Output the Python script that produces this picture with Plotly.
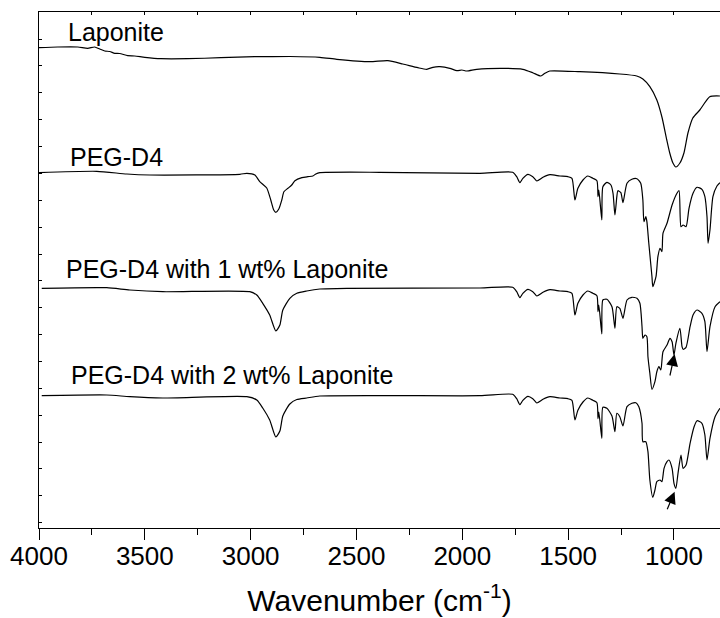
import plotly.graph_objects as go

# ---------------- data ----------------
# Laponite
wn_lap = [4000, 3912, 3817, 3770, 3737, 3713, 3689, 3666, 3642, 3619, 3581, 3548, 3500,
          3424, 3297, 3141, 2981, 2815, 2673, 2593, 2437, 2352, 2281, 2210, 2168, 2139,
          2106, 2059, 2026, 2002, 1979, 1932, 1809, 1714, 1667, 1629, 1610, 1587, 1445,
          1256, 1176, 1147, 1114, 1081, 1057, 1034, 1020, 1005, 991, 972, 953, 934, 911,
          878, 831, 783]
ab_lap = [480.3, 481, 481, 479.7, 481, 479, 477, 476.5, 474.7, 474.5, 472.3, 472, 470.7,
          469.3, 469.3, 470.3, 471.3, 471.5, 470.7, 468.7, 466.3, 467.3, 464, 460.3, 458.7,
          460.7, 461.3, 459.7, 457.3, 458, 457, 458.7, 459.7, 458.7, 455.3, 452, 454.7, 457,
          456.3, 454, 452, 449, 441.3, 428, 411, 388, 375, 365, 361, 365, 375, 395, 410,
          418, 431.3, 432]

# PEG-D4
wn_peg = [4000, 3727, 3585, 3477, 3051, 3018, 2980, 2957, 2943, 2924, 2905, 2891, 2881,
          2867, 2853, 2843, 2824, 2806, 2791, 2758, 2730, 2706, 2692, 2673, 2390, 1917,
          1762, 1743, 1728, 1714, 1690, 1667, 1648, 1619, 1586, 1539, 1501, 1482, 1468,
          1454, 1430, 1407, 1383, 1364, 1359, 1355, 1341, 1336, 1317, 1298, 1288, 1279,
          1270, 1265, 1251, 1241, 1222, 1199, 1175, 1157, 1147, 1142, 1133, 1128, 1119,
          1104, 1100, 1085, 1076, 1066, 1057, 1052, 1033, 1009, 986, 976, 967, 957, 943,
          929, 910, 891, 868, 854, 844, 839, 830, 816, 797, 783]
ab_peg = [355.3, 356.7, 354, 353, 353.7, 354.7, 353, 346.3, 343.7, 340, 328, 318, 315.7,
          319, 328, 336.3, 339.7, 343, 347.3, 350.3, 351.3, 352, 354, 355.3, 355.7, 354.7,
          355.7, 351.3, 345.3, 349.7, 353.7, 351.3, 347, 350.7, 353.3, 352, 351.3, 349.7,
          328, 339.7, 348, 352, 349.7, 347.3, 331.3, 338, 308, 341.3, 345.7, 343, 334.7,
          313, 331.3, 337.3, 335.3, 325.3, 344.7, 348.7, 349.3, 344.7, 328, 306.3, 311.3,
          306.3, 284.7, 251.3, 241.3, 251.3, 271.3, 279.7, 276.3, 294.7, 304.7, 323, 334.7,
          337.3, 301.3, 303, 301.3, 319.7, 334.7, 340.7, 338.7, 331.3, 311.3, 284.7, 298,
          331.3, 342, 345.3]

# PEG-D4 with 1 wt% Laponite
wn_peg1 = [3987, 3680, 3571, 3415, 3004, 2971, 2943, 2910, 2881, 2862, 2848, 2815, 2782,
           2735, 2673, 2546, 1917, 1762, 1743, 1728, 1714, 1690, 1667, 1648, 1619, 1586,
           1539, 1501, 1482, 1468, 1454, 1430, 1407, 1383, 1364, 1359, 1355, 1341, 1336,
           1317, 1293, 1279, 1270, 1256, 1241, 1222, 1199, 1175, 1161, 1151, 1147, 1137,
           1128, 1123, 1114, 1104, 1090, 1081, 1071, 1062, 1052, 1033, 1019, 1009, 1000,
           991, 972, 962, 957, 943, 924, 910, 891, 868, 854, 844, 830, 806, 783]
ab_peg1 = [239.7, 240.3, 238, 236.3, 236.3, 233, 224.7, 213, 197, 203, 218, 229.7, 234.7,
           237, 239, 239.7, 240, 240.7, 236.3, 230.3, 234.7, 238.7, 236.3, 232, 235.7, 238.3,
           237, 236.3, 234.7, 213, 224.7, 233, 237, 234.7, 232.3, 216.3, 223, 194, 228,
           228.7, 221.3, 199.7, 221.3, 219.7, 209.7, 228, 230.7, 229.7, 224.7, 201.3, 189.7,
           193, 191.3, 171.3, 154.7, 138.7, 146.3, 156.3, 161.3, 158, 176.3, 183, 189.7,
           186.3, 173, 184.7, 199.7, 181.3, 178.7, 180.7, 201.3, 213, 218, 214.7, 206.3,
           176.3, 201.3, 221.3, 226.3]

# PEG-D4 with 2 wt% Laponite
wn_peg2 = [3987, 3680, 3571, 3415, 3018, 2971, 2943, 2910, 2881, 2862, 2848, 2815, 2782,
           2735, 2673, 1917, 1762, 1743, 1728, 1714, 1690, 1667, 1648, 1619, 1586, 1539,
           1501, 1482, 1468, 1454, 1430, 1407, 1383, 1364, 1359, 1355, 1341, 1336, 1317,
           1293, 1279, 1270, 1256, 1241, 1222, 1199, 1180, 1166, 1151, 1147, 1133, 1123,
           1114, 1100, 1090, 1081, 1066, 1057, 1047, 1033, 1024, 1009, 1000, 991, 981, 967,
           957, 943, 924, 905, 891, 868, 854, 844, 830, 806, 783]
ab_peg2 = [132.3, 133, 131.3, 130, 131.3, 128, 120, 108, 91, 97, 112, 124, 128.5, 130, 132,
           132.3, 133.7, 129.3, 123.3, 127.7, 131.7, 129.3, 125, 128.7, 131.3, 130, 129.3,
           127.7, 108, 117.7, 126, 130, 127.7, 125.3, 109.3, 116, 89.7, 120.7, 119.7, 112,
           96.3, 114.7, 111.3, 102, 121.3, 124.7, 125.3, 121.3, 104.7, 86.3, 86.3, 76.3, 48,
           30.7, 38, 46.3, 48, 46.3, 59.7, 66.3, 68, 59.7, 44.7, 39.7, 54.7, 73, 59.7, 63,
           84.7, 101.3, 107.3, 104.7, 93, 68, 89.7, 111.3, 119.7]

labels = ["Laponite", "PEG-D4", "PEG-D4 with 1 wt% Laponite", "PEG-D4 with 2 wt% Laponite"]
label_wn = [3871, 3862, 3881, 3857]
label_val = [496, 371, 259, 153]

arrow_wn = [997, 997]
arrow_val = [174, 36.3]

x_range = [4000, 782.6]
y_range = [0, 516]

# ---------------- figure ----------------
FONT = "Liberation Sans, Arial, Helvetica, sans-serif"
fig = go.Figure()
for wn, ab in [(wn_lap, ab_lap), (wn_peg, ab_peg), (wn_peg1, ab_peg1), (wn_peg2, ab_peg2)]:
    fig.add_trace(go.Scatter(x=wn, y=ab, mode="lines",
                             line=dict(color="black", width=1.2, shape="spline", smoothing=0.6),
                             showlegend=False, hoverinfo="skip"))

# invisible helper trace so the mirrored top axis gets drawn
fig.add_trace(go.Scatter(x=wn_lap[:1], y=ab_lap[:1], xaxis="x2", mode="markers",
                         marker=dict(opacity=0), showlegend=False, hoverinfo="skip"))

for t, xv, yv in zip(labels, label_wn, label_val):
    fig.add_annotation(x=xv, y=yv, xref="x", yref="y", text=t, showarrow=False,
                       xanchor="left", yanchor="middle",
                       font=dict(family=FONT, size=25, color="black"))

for xv, yv, ax, ay in zip(arrow_wn, arrow_val, [-5, -8], [23, 19]):
    fig.add_annotation(x=xv, y=yv, xref="x", yref="y", text="", showarrow=True,
                       ax=ax, ay=ay, arrowhead=2, arrowsize=2.0, arrowwidth=1.2,
                       arrowcolor="black", standoff=0)

fig.update_layout(
    width=720, height=618,
    margin=dict(l=39.3, r=0, t=12, b=90, pad=0),
    plot_bgcolor="white", paper_bgcolor="white",
    font=dict(family=FONT, color="black"),
    xaxis=dict(range=x_range, showgrid=False, zeroline=False,
               showline=True, linecolor="black", linewidth=1.3,
               ticks="outside", ticklen=11, tickwidth=1.3, tickcolor="black",
               dtick=500, tick0=0, ticklabelstandoff=-6,
               minor=dict(ticks="outside", ticklen=6, tickwidth=1.3, tickcolor="black", dtick=250),
               tickfont=dict(family=FONT, size=26, color="black"),
               title=dict(text="Wavenumber (cm<sup>-1</sup>)",
                          font=dict(family=FONT, size=30, color="black"), standoff=19)),
    xaxis2=dict(range=x_range, overlaying="x", side="top", showgrid=False, zeroline=False,
                showline=True, linecolor="black", linewidth=1.3,
                ticks="inside", ticklen=3, tickwidth=1.3, tickcolor="black",
                dtick=500, tick0=0, showticklabels=False,
                minor=dict(ticks="inside", ticklen=3, tickwidth=1.3, tickcolor="black", dtick=250)),
    yaxis=dict(range=y_range, showgrid=False, zeroline=False,
               showline=True, linecolor="black", linewidth=1.3,
               ticks="inside", ticklen=3, tickwidth=1.3, tickcolor="black",
               tick0=5.3, dtick=26.87, showticklabels=False),
)

fig.write_html("out.html", config={"displayModeBar": False},
               post_script="document.body.style.margin='0px';document.body.style.padding='0px';")
